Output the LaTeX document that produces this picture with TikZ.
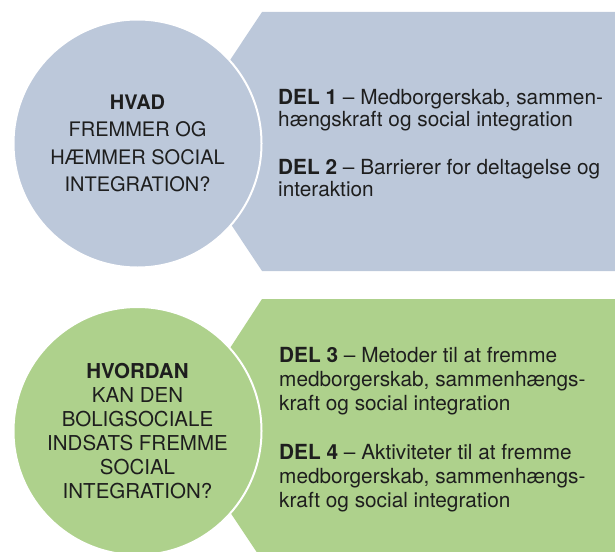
\documentclass[tikz,border=0pt]{standalone}
\usepackage{fontspec}
\setmainfont{TeX Gyre Heros}
\definecolor{hvadblue}{RGB}{188,200,218}
\definecolor{hvordangreen}{RGB}{174,209,140}
\definecolor{inktext}{RGB}{30,30,30}

\begin{document}
\begin{tikzpicture}[x=1pt,y=1pt,
  every node/.style={text=inktext,font=\fontsize{20.8}{22}\selectfont},
  rund/.style={circle,draw=white,line width=2pt,minimum size=248pt,inner sep=0pt,align=center},
  del/.style={anchor=west,align=left,inner sep=0pt}]

\useasboundingbox (0,0) rectangle (615,-551);
\clip (0,0) rectangle (615,-551);

\fill[hvadblue] (262,-12)--(615,-12)--(615,-271)--(262,-271)--(176,-141.5)--cycle;
\fill[hvordangreen] (262,-299)--(615,-299)--(615,-560)--(262,-560)--(176,-431)--cycle;

\node[rund,fill=hvadblue,font=\fontsize{20}{27.5}\selectfont] (hvad) at (137.5,-143.5)
  {\textbf{HVAD}\\FREMMER OG\\HÆMMER SOCIAL\\INTEGRATION?};
\node[rund,fill=hvordangreen,font=\fontsize{20.5}{24}\selectfont] (hvordan) at (137.5,-431)
  {\textbf{HVORDAN}\\KAN DEN\\BOLIGSOCIALE\\INDSATS FREMME\\SOCIAL\\INTEGRATION?};

\node[del] (del12) at (278,-143)
  {\textbf{DEL 1} -- Medborgerskab, sammen-\\hængskraft og social integration\\[26pt]
   \textbf{DEL 2} -- Barrierer for deltagelse og\\interaktion};
\node[del,font=\fontsize{20.8}{24}\selectfont] (del34) at (279,-430)
  {\textbf{DEL 3} -- Metoder til at fremme\\medborgerskab, sammenhængs-\\kraft og social integration\\[25pt]
   \textbf{DEL 4} -- Aktiviteter til at fremme\\medborgerskab, sammenhængs-\\kraft og social integration};

\end{tikzpicture}
\end{document}
